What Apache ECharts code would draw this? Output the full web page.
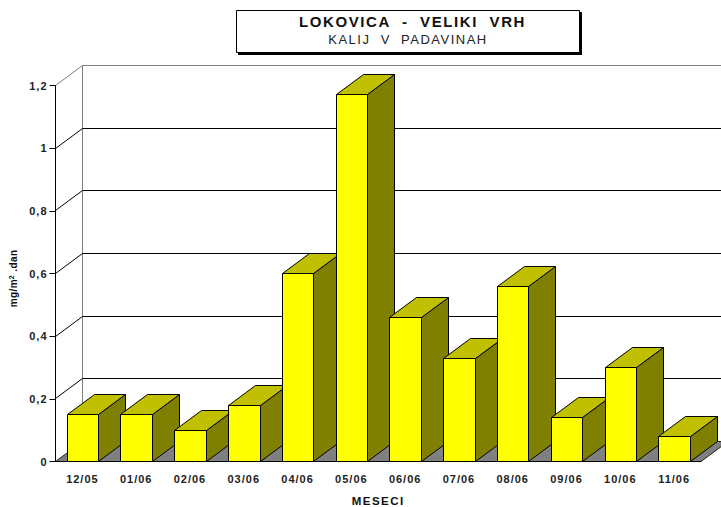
<!DOCTYPE html>
<html><head><meta charset="utf-8">
<style>html,body{margin:0;padding:0;background:#fff}#c{width:721px;height:507px}
svg text{letter-spacing:1px}
svg text[style*="15px"]{letter-spacing:1.6px}
svg text[style*="13px"]{letter-spacing:1.5px}
svg text[style*="11.5px"]{letter-spacing:1.5px}
svg text[style*="10px"]{letter-spacing:.4px}
</style>
<script src="https://cdn.jsdelivr.net/npm/echarts@6/dist/echarts.min.js"></script></head>
<body><div id="c"></div>
<script>
const categories=['12/05','01/06','02/06','03/06','04/06','05/06','06/06','07/06','08/06','09/06','10/06','11/06'];
const values=[0.15,0.15,0.10,0.18,0.60,1.17,0.46,0.33,0.56,0.14,0.30,0.08];
const yTicks=[0,0.2,0.4,0.6,0.8,1,1.2];
const titleMain='LOKOVICA  -  VELIKI  VRH';
const titleSub='KALIJ  V  PADAVINAH';
const DX=27,DY=20,FONT='"Liberation Sans",Arial,sans-serif';
const chart=echarts.init(document.getElementById('c'),null,{renderer:'svg'});
const crisp=v=>Math.floor(v)+0.5;
function poly(points,fill,stroke){return{type:'polygon',shape:{points},style:{fill,stroke:stroke||'#000',lineWidth:1}};}
function line(x1,y1,x2,y2,c){return{type:'line',shape:{x1,y1,x2,y2},style:{stroke:c,lineWidth:1}};}
chart.setOption({
 animation:false,backgroundColor:'#fff',
 graphic:[
  {type:'rect',shape:{x:238,y:12,width:344,height:43},style:{fill:'#000'},z:1},
  {type:'rect',shape:{x:236.5,y:10.5,width:343,height:42},style:{fill:'#fff',stroke:'#000',lineWidth:1},z:2}],
 title:[
  {text:titleMain,left:412.5,top:14,textAlign:'center',padding:0,z:6,
   textStyle:{fontFamily:FONT,fontSize:15,fontWeight:'bold',color:'#111',lineHeight:15}},
  {text:titleSub,left:408,top:32,textAlign:'center',padding:0,z:6,
   textStyle:{fontFamily:FONT,fontSize:13,fontWeight:'normal',color:'#222',lineHeight:14}}],
 grid:{left:55.5,right:20,top:85.5,bottom:45.5,containLabel:false,outerBoundsMode:'none'},
 xAxis:{type:'category',data:categories,name:'MESECI',nameLocation:'middle',nameGap:33.5,z:5,
  nameTextStyle:{fontFamily:FONT,fontSize:11.5,fontWeight:'bold',color:'#111'},
  axisLine:{lineStyle:{color:'#000',width:1}},axisTick:{length:6,lineStyle:{color:'#000'},alignWithLabel:false},
  axisLabel:{fontFamily:FONT,fontSize:11,fontWeight:'bold',color:'#222',margin:12,interval:0},splitLine:{show:false}},
 yAxis:{type:'value',min:0,max:1.2,interval:0.2,z:5,name:'mg/m{s|2} .dan',nameLocation:'middle',nameGap:36,nameRotate:90,
  nameTextStyle:{fontFamily:FONT,fontSize:10,fontWeight:'bold',color:'#111',padding:[0,10,0,0],rich:{s:{fontFamily:FONT,fontSize:7,fontWeight:'bold',color:'#111',verticalAlign:'top',padding:[0,1,5,1]}}},
  axisLine:{show:true,lineStyle:{color:'#000',width:1}},axisTick:{show:true,length:6,lineStyle:{color:'#000'}},
  axisLabel:{fontFamily:FONT,fontSize:11,fontWeight:'bold',color:'#222',margin:8,formatter:v=>String(v).replace('.',',')},splitLine:{show:false}},
 series:[
  {type:'custom',z:1,clip:false,silent:true,coordinateSystem:'cartesian2d',data:yTicks.map(v=>[0,v]),
   renderItem(params,api){
    const y=crisp(api.coord([0,api.value(1)])[1]),x0=crisp(params.coordSys.x),x1=x0+params.coordSys.width,v=api.value(1);
    const top=v===1.2,c=top?'#808080':'#000',ch=[];
    if(v===0){
      const yt=crisp(api.coord([0,1.2])[1]);
      ch.push(poly([[x0,y],[x0+DX,y-DY],[x1+DX,y-DY],[x1,y]],'#808080','#222'));
      ch.push(line(x0+DX,y-DY,x0+DX,yt-DY,'#808080'));
    }else{
      ch.push(line(x0,y,x0+DX,y-DY,c));
      ch.push(line(x0+DX,y-DY,x1+DX,y-DY,top?'#808080':'#000'));
    }
    return{type:'group',children:ch};
   }},
  {type:'custom',z:2,clip:false,silent:true,coordinateSystem:'cartesian2d',data:values.map((v,i)=>[i,v]),
   renderItem(params,api){
    const p=api.coord([api.value(0),api.value(1)]),b=api.coord([api.value(0),0]),w=api.size([1,0])[0]*0.585;
    const x0=crisp(p[0]-w/2+0.5),x1=crisp(p[0]+w/2+0.5),yt=crisp(p[1]),yb=crisp(b[1]);
    return{type:'group',children:[
     poly([[x1,yt],[x1+DX,yt-DY],[x1+DX,yb-DY],[x1,yb]],'#808000'),
     poly([[x0,yt],[x0+DX,yt-DY],[x1+DX,yt-DY],[x1,yt]],'#c0c000'),
     poly([[x0,yt],[x1,yt],[x1,yb],[x0,yb]],'#ffff00')
    ]};
   }}
 ]
});
</script></body></html>
